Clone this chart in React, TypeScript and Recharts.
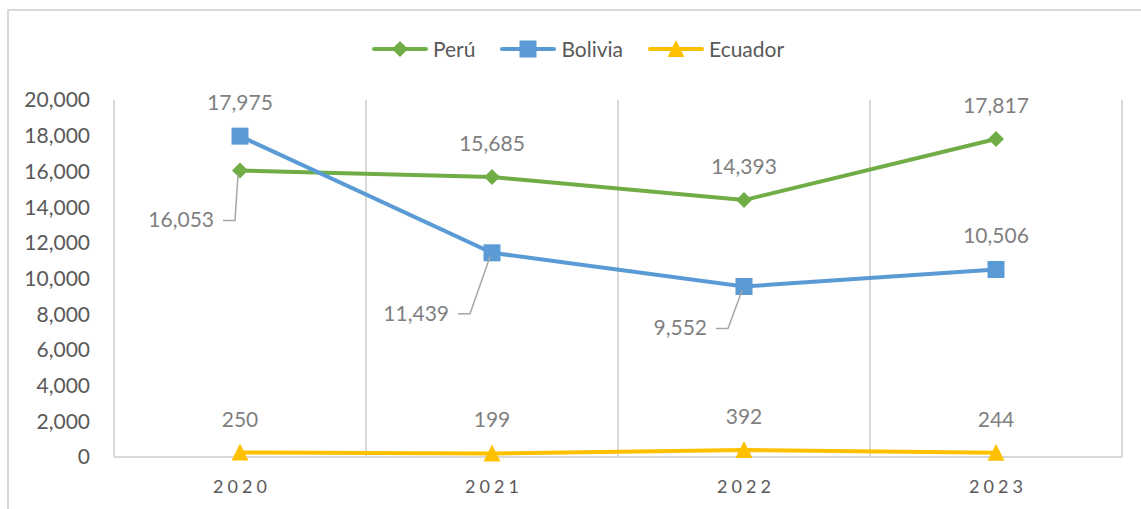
import { LineChart, Line, XAxis, YAxis, CartesianGrid } from "recharts";

const years = ["2020", "2021", "2022", "2023"];
const peru = [16053, 15685, 14393, 17817];
const bolivia = [17975, 11439, 9552, 10506];
const ecuador = [250, 199, 392, 244];
const yTicks = [0, 2000, 4000, 6000, 8000, 10000, 12000, 14000, 16000, 18000, 20000];

const data = years.map((year, i) => ({
  year,
  peru: peru[i],
  bolivia: bolivia[i],
  ecuador: ecuador[i],
}));

const FONT = "Lato, 'Open Sans', sans-serif";
const GRID = "#d9d9d9";
const TICK = "#595959";
const LABEL = "#7f7f7f";

type Shape = "diamond" | "square" | "triangle";

const series: { key: string; name: string; color: string; shape: Shape }[] = [
  { key: "peru", name: "Perú", color: "#70ad47", shape: "diamond" },
  { key: "bolivia", name: "Bolivia", color: "#5b9bd5", shape: "square" },
  { key: "ecuador", name: "Ecuador", color: "#ffc000", shape: "triangle" },
];

// labels pulled down-left with a leader line (dx = dash end, dy = drop)
const leaders: Record<string, { dx: number; dy: number }> = {
  "peru-0": { dx: -5, dy: 50 },
  "bolivia-1": { dx: -22, dy: 61 },
  "bolivia-2": { dx: -16, dy: 42 },
};

function marker(shape: Shape, cx: number, cy: number, color: string, key?: string) {
  if (shape === "diamond") {
    const r = 8;
    return (
      <path key={key} d={`M${cx},${cy - r}L${cx + r},${cy}L${cx},${cy + r}L${cx - r},${cy}Z`} fill={color} />
    );
  }
  if (shape === "square") {
    return <rect key={key} x={cx - 8.5} y={cy - 8.5} width={17} height={17} fill={color} />;
  }
  return (
    <path key={key} d={`M${cx},${cy - 9}L${cx + 8.5},${cy + 8}L${cx - 8.5},${cy + 8}Z`} fill={color} />
  );
}

function makeLabel(key: string) {
  return (props: any) => {
    const { x, y, value, index } = props;
    const text = Number(value).toLocaleString("en-US");
    const lead = leaders[`${key}-${index}`];
    if (lead) {
      const ex = x + lead.dx;
      const ly = y + lead.dy;
      return (
        <g key={`lbl-${key}-${index}`}>
          <polyline
            points={`${ex - 12},${ly} ${ex},${ly} ${x - 2},${y + 4}`}
            fill="none"
            stroke="#a6a6a6"
            strokeWidth={1.5}
          />
          <text x={ex - 21} y={ly + 7} textAnchor="end" fontSize={21} fontFamily={FONT} fill={LABEL}>
            {text}
          </text>
        </g>
      );
    }
    return (
      <text
        key={`lbl-${key}-${index}`}
        x={x}
        y={y - 26}
        textAnchor="middle"
        fontSize={21}
        fontFamily={FONT}
        fill={LABEL}
      >
        {text}
      </text>
    );
  };
}

function Legend() {
  return (
    <div
      style={{
        position: "absolute",
        top: 25,
        left: -6,
        width: 1150,
        display: "flex",
        justifyContent: "center",
        gap: 25,
        fontFamily: FONT,
        fontSize: 21,
        color: TICK,
      }}
    >
      {series.map((s) => (
        <div key={s.key} style={{ display: "flex", alignItems: "center" }}>
          <svg width={56} height={20}>
            <line x1={2} y1={10} x2={54} y2={10} stroke={s.color} strokeWidth={4} strokeLinecap="round" />
            {marker(s.shape, 28, 10, s.color)}
          </svg>
          <span style={{ marginLeft: 5 }}>{s.name}</span>
        </div>
      ))}
    </div>
  );
}

export default function App() {
  return (
    <div
      style={{
        position: "fixed",
        left: 7,
        top: 9,
        width: 1150,
        height: 520,
        border: `2px solid ${GRID}`,
        background: "#fff",
      }}
    >
      <Legend />
      <LineChart width={1130} height={500} data={data} margin={{ top: 89, right: 17, left: 25, bottom: 24 }}>
        <CartesianGrid
          horizontal={false}
          stroke={GRID}
          strokeWidth={2}
          verticalCoordinatesGenerator={({ offset }: any) =>
            Array.from({ length: years.length + 1 }, (_, i) => offset.left + (i * offset.width) / years.length)
          }
        />
        <XAxis
          dataKey="year"
          scale="band"
          axisLine={{ stroke: GRID, strokeWidth: 2 }}
          tickLine={false}
          tickSize={0}
          tickMargin={23}
          height={30}
          tick={{ fill: TICK, fontSize: 18, fontFamily: FONT, letterSpacing: 4, dx: 2 }}
        />
        <YAxis
          domain={[0, 20000]}
          ticks={yTicks}
          width={80}
          axisLine={false}
          tickLine={false}
          tickSize={0}
          tickMargin={24}
          interval={0}
          tickFormatter={(v: number) => v.toLocaleString("en-US")}
          tick={{ fill: TICK, fontSize: 21, fontFamily: FONT }}
        />
        {series.map((s) => (
          <Line
            key={s.key}
            dataKey={s.key}
            name={s.name}
            stroke={s.color}
            strokeWidth={4}
            isAnimationActive={false}
            dot={(p: any) => marker(s.shape, p.cx, p.cy, s.color, `dot-${s.key}-${p.index}`)}
            activeDot={false}
            label={makeLabel(s.key)}
          />
        ))}
      </LineChart>
    </div>
  );
}
